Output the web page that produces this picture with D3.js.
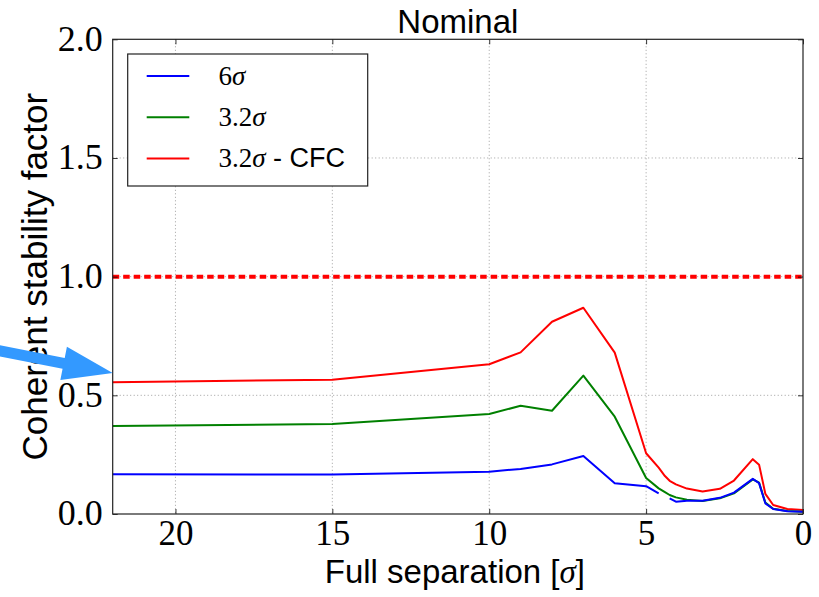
<!DOCTYPE html>
<html>
<head>
<meta charset="utf-8">
<script src="https://cdn.jsdelivr.net/npm/d3@7"></script>
<style>
  html, body { margin: 0; padding: 0; background: #ffffff; }
  svg { display: block; }
</style>
</head>
<body>
<svg id="chart" width="819" height="597"></svg>
<script>
// ---------------- data ----------------
const separation = [22, 15, 10, 9, 8, 7, 6, 5, 4.6, 4.4, 4.25, 4.05, 3.7, 3.2, 2.65, 2.2, 1.6, 1.4, 1.2, 0.95, 0.5, 0];
const sigma6     = [0.167, 0.166, 0.178, 0.190, 0.209, 0.244, 0.130, 0.117, 0.087, null, 0.066, 0.052, 0.056, 0.056, 0.068, 0.090, 0.148, 0.130, 0.045, 0.021, 0.012, 0.009];
const sigma32    = [0.371, 0.379, 0.421, 0.456, 0.435, 0.583, 0.410, 0.152, 0.108, 0.092, 0.080, 0.070, 0.060, 0.055, 0.066, 0.087, 0.146, 0.132, 0.048, 0.022, 0.013, 0.010];
const sigma32CFC = [0.555, 0.566, 0.631, 0.681, 0.810, 0.869, 0.680, 0.256, 0.195, 0.160, 0.140, 0.125, 0.107, 0.095, 0.106, 0.141, 0.231, 0.208, 0.085, 0.038, 0.021, 0.017];
const threshold = 1.0;
const xTicks = [20, 15, 10, 5, 0];
const yTicks = [0.0, 0.5, 1.0, 1.5, 2.0];
const seriesNames = ["6", "3.2", "3.2"];
const seriesSuffix = ["", "", " - CFC"];
const seriesColors = ["#0000ff", "#008000", "#ff0000"];
const arrowTip = [22, 0.594];

// ---------------- layout ----------------
const svg = d3.select("#chart");
const L = 112.7, R = 803, T = 39.3, B = 514;
const x = d3.scaleLinear().domain([22, 0]).range([L, R]);
const y = d3.scaleLinear().domain([0, 2]).range([B, T]);
const serif = "'Liberation Serif', 'DejaVu Serif', serif";
const sans = "'Liberation Sans', Arial, sans-serif";

// grid
const grid = svg.append("g");
xTicks.filter(t => t > 0 && t < 22).forEach(t => {
  grid.append("line").attr("x1", x(t)).attr("x2", x(t)).attr("y1", T).attr("y2", B)
    .attr("stroke", "#888").attr("stroke-width", 0.8).attr("stroke-dasharray", "1,2.5");
});
yTicks.filter(t => t > 0 && t < 2).forEach(t => {
  grid.append("line").attr("x1", L).attr("x2", R).attr("y1", y(t)).attr("y2", y(t))
    .attr("stroke", "#888").attr("stroke-width", 0.8).attr("stroke-dasharray", "1,2.5");
});

// threshold line
svg.append("line").attr("x1", L).attr("x2", R).attr("y1", y(threshold)).attr("y2", y(threshold))
  .attr("stroke", "#ff0000").attr("stroke-width", 4).attr("stroke-dasharray", "6.5,4");

// series
const allSeries = [sigma6, sigma32, sigma32CFC];
const lineGen = d3.line()
  .defined(d => d[1] !== null)
  .x(d => x(d[0])).y(d => y(d[1]));
[2, 1, 0].forEach(i => {
  const pts = separation.map((s, k) => [s, allSeries[i][k]]);
  svg.append("path").attr("d", lineGen(pts)).attr("fill", "none")
    .attr("stroke", seriesColors[i]).attr("stroke-width", 2).attr("stroke-linejoin", "round");
});

// axes with inward ticks
const xAxisB = d3.axisBottom(x).tickValues(xTicks).tickSize(-5).tickFormat(d => d3.format("d")(d)).tickPadding(6);
const xAxisT = d3.axisTop(x).tickValues(xTicks).tickSize(-5).tickFormat("");
const yAxisL = d3.axisLeft(y).tickValues(yTicks).tickSize(-5).tickFormat(d3.format(".1f")).tickPadding(10);
const yAxisR = d3.axisRight(y).tickValues(yTicks).tickSize(-5).tickFormat("");

function styleAxis(g, size) {
  g.select(".domain").remove();
  g.selectAll(".tick line").attr("stroke", "#000").attr("stroke-width", 0.8);
  g.selectAll("text").attr("font-family", serif).attr("font-size", size).attr("fill", "#000");
}
svg.append("g").attr("transform", `translate(0,${B})`).call(xAxisB).call(styleAxis, 35)
  .selectAll("text").attr("dy", "0.71em");
svg.append("g").attr("transform", `translate(0,${T})`).call(xAxisT).call(styleAxis, 35);
svg.append("g").attr("transform", `translate(${L},0)`).call(yAxisL).call(styleAxis, 36)
  .selectAll("text").attr("dy", "0.3em");
svg.append("g").attr("transform", `translate(${R},0)`).call(yAxisR).call(styleAxis, 36);

// frame
svg.append("rect").attr("x", L).attr("y", T).attr("width", R - L).attr("height", B - T)
  .attr("fill", "none").attr("stroke", "#222").attr("stroke-width", 1.2);

// title
svg.append("text").attr("x", (L + R) / 2).attr("y", 33).attr("text-anchor", "middle")
  .attr("font-family", sans).attr("font-size", 33).text("Nominal");

// x label
const xl = svg.append("text").attr("x", (L + R) / 2 - 3).attr("y", 583).attr("text-anchor", "middle")
  .attr("font-family", sans).attr("font-size", 33);
xl.append("tspan").text("Full separation [");
xl.append("tspan").attr("font-family", serif).attr("font-style", "italic").text("σ");
xl.append("tspan").text("]");

// y label
svg.append("text").attr("transform", `translate(47,${(T + B) / 2}) rotate(-90)`)
  .attr("text-anchor", "middle").attr("font-family", sans).attr("font-size", 35)
  .text("Coherent stability factor");

// legend
const lg = svg.append("g");
lg.append("rect").attr("x", 127.7).attr("y", 54).attr("width", 240).attr("height", 132)
  .attr("fill", "#fff").attr("stroke", "#222").attr("stroke-width", 1.2);
seriesNames.forEach((nm, i) => {
  const yy = 76 + i * 41.2;
  lg.append("line").attr("x1", 146.7).attr("x2", 189.3).attr("y1", yy).attr("y2", yy)
    .attr("stroke", seriesColors[i]).attr("stroke-width", 2);
  const t = lg.append("text").attr("x", 218.5).attr("y", yy + 9).attr("font-family", serif).attr("font-size", 27);
  t.append("tspan").text(nm);
  t.append("tspan").attr("font-style", "italic").text("σ");
  if (seriesSuffix[i]) t.append("tspan").attr("font-family", sans).attr("font-size", 27).text(seriesSuffix[i]);
});

// annotation arrow
const tipX = x(arrowTip[0]), tipY = y(arrowTip[1]);
const ang = Math.atan2(22, 112);
const headLen = 50, headHalf = 17, shaftHalf = 5.5, totalLen = 125;
const ux = Math.cos(ang), uy = Math.sin(ang), nx = -uy, ny = ux;
const bx = tipX - ux * headLen, by = tipY - uy * headLen;
const sx = tipX - ux * totalLen, sy = tipY - uy * totalLen;
const arrowPts = [
  [tipX, tipY],
  [bx + nx * headHalf, by + ny * headHalf],
  [bx + nx * shaftHalf, by + ny * shaftHalf],
  [sx + nx * shaftHalf, sy + ny * shaftHalf],
  [sx - nx * shaftHalf, sy - ny * shaftHalf],
  [bx - nx * shaftHalf, by - ny * shaftHalf],
  [bx - nx * headHalf, by - ny * headHalf]
];
svg.append("polygon").attr("points", arrowPts.map(p => p.join(",")).join(" "))
  .attr("fill", "#3399ff");
</script>
</body>
</html>
